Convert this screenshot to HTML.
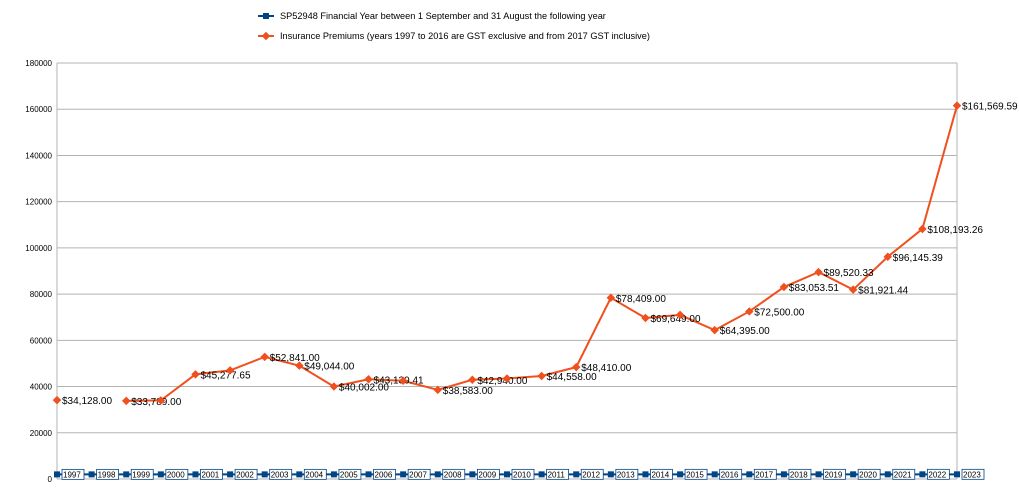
<!DOCTYPE html>
<html><head><meta charset="utf-8"><style>
body{margin:0;background:#fff;width:1019px;height:490px;overflow:hidden;font-family:"Liberation Sans",sans-serif}
</style></head><body>
<svg id="chart" width="1019" height="490" xmlns="http://www.w3.org/2000/svg" font-family="Liberation Sans, sans-serif">
<g>
<g>
<line x1="258" y1="16" x2="274" y2="16" stroke="#004586" stroke-width="2"/><rect x="263" y="13" width="6" height="6" fill="#004586"/>
<text x="280" y="19" font-size="9.2" fill="#000">SP52948 Financial Year between 1 September and 31 August the following year</text></g>
<g>
<line x1="258" y1="36" x2="274" y2="36" stroke="#f0501e" stroke-width="2"/><rect x="263" y="33" width="6" height="6" fill="#f0501e" transform="rotate(45 266 36)"/>
<text x="280" y="39" font-size="9.2" fill="#000">Insurance Premiums (years 1997 to 2016 are GST exclusive and from 2017 GST inclusive)</text></g>
</g>
<g id="grid"></g><g id="series"></g>
</svg>
<script>
const years=[1997,1998,1999,2000,2001,2002,2003,2004,2005,2006,2007,2008,2009,2010,2011,2012,2013,2014,2015,2016,2017,2018,2019,2020,2021,2022,2023];
const premiums=[34128,null,33789,34000,45277.65,47000,52841,49044,40002,43139.41,42500,38583,42940,43500,44558,48410,78409,69649,71000,64395,72500,83053.51,89520.33,81921.44,96145.39,108193.26,161569.59];
const premiumLabels=["$34,128.00",null,"$33,789.00",null,"$45,277.65",null,"$52,841.00","$49,044.00","$40,002.00","$43,139.41",null,"$38,583.00","$42,940.00",null,"$44,558.00","$48,410.00","$78,409.00","$69,649.00",null,"$64,395.00","$72,500.00","$83,053.51","$89,520.33","$81,921.44","$96,145.39","$108,193.26","$161,569.59"];
const yTicks=[0,20000,40000,60000,80000,100000,120000,140000,160000,180000];
const NS="http://www.w3.org/2000/svg";
const X0=57,X1=957,Y0=479,Y1=63,YMAX=180000;
const x=i=>X0+i*(X1-X0)/(years.length-1);
const y=v=>Y0-v/YMAX*(Y0-Y1);
function mk(tag,attrs,parent){const e=document.createElementNS(NS,tag);for(const k in attrs)e.setAttribute(k,attrs[k]);parent.appendChild(e);return e;}
const grid=document.getElementById('grid'),ser=document.getElementById('series');
yTicks.forEach(t=>{
 const l=mk('line',{x1:X0,x2:X1,y1:y(t),y2:y(t),stroke:'#b3b3b3','stroke-width':1},grid);
 
 
 const tx=mk('text',{x:52,y:y(t)+3,'font-size':8,'text-anchor':'end',fill:'#000'},grid);
 tx.textContent=t;
 
 
});
const ax=mk('line',{x1:X0,x2:X0,y1:Y1,y2:Y0,stroke:'#b3b3b3'},grid);


const ax2=mk('line',{x1:X1,x2:X1,y1:Y1,y2:Y0,stroke:'#b3b3b3'},grid);


let d='',pen=false;
premiums.forEach((v,i)=>{if(v==null){pen=false;return;}d+=(pen?'L':'M')+x(i)+' '+y(v)+' ';pen=true;});
const pl=mk('path',{d:d,fill:'none',stroke:'#f0501e','stroke-width':2},ser);


let db='';years.forEach((v,i)=>{db+=(i?'L':'M')+x(i)+' '+y(v)+' ';});
const bl=mk('path',{d:db,fill:'none',stroke:'#004586','stroke-width':2},ser);


years.forEach((v,i)=>{
 const r=mk('rect',{x:x(i)-3,y:y(v)-3,width:6,height:6,fill:'#004586'},ser);
 
 
 const bx=mk('rect',{x:x(i)+5,y:y(v)-5,width:22,height:10,fill:'#fff',stroke:'#004586','stroke-width':0.8},ser);
 
 
 const t=mk('text',{x:x(i)+6,y:y(v)+3,'font-size':8,fill:'#000'},ser);
 t.textContent=v;
 
 
});
premiums.forEach((v,i)=>{
 if(v==null)return;
 const p=mk('rect',{x:x(i)-3,y:y(v)-3,width:6,height:6,fill:'#f0501e',transform:`rotate(45 ${x(i)} ${y(v)})`},ser);
 
 
 if(premiumLabels[i]){
  const t=mk('text',{x:x(i)+5,y:y(v)+4,'font-size':10,fill:'#000'},ser);
  t.textContent=premiumLabels[i];
  
  
 }
});
</script>
</body></html>
